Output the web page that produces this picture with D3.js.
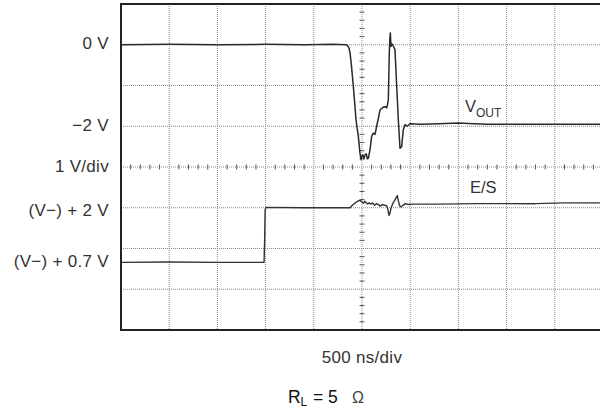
<!DOCTYPE html>
<html>
<head>
<meta charset="utf-8">
<script src="https://cdn.jsdelivr.net/npm/d3@7"></script>
<style>
  html, body { margin: 0; padding: 0; background: #fff; }
  svg { display: block; }
  text { font-family: "Liberation Sans", Arial, sans-serif; fill: #333; }
</style>
</head>
<body>
<svg id="chart" width="600" height="410"></svg>
<script>
// ---- data ----
// time in ns relative to the centre graticule (500 ns/div)
const timeTicks = [-2500, -2000, -1500, -1000, -500, 0, 500, 1000, 1500, 2000, 2500];
// VOUT trace (volts)
const voutTime = [-2500, -2000, -1500, -1000, -600, -300, -165, -150, -135, -124, -110, -90, -75, -62, -50, -38, -21, -10, -3, 8, 20, 31, 45, 55, 66, 83, 100, 117, 135, 152, 170, 187, 205, 221, 240, 256, 266, 273, 278, 283, 289, 294, 298, 301, 308, 318, 328, 342, 360, 377, 394, 411, 428, 446, 470, 498, 600, 800, 1000, 1100, 1300, 1600, 2000, 2500];
const voutVal  = [0, 0.01, 0, 0.01, 0, 0.01, 0, -0.02, -0.08, -0.2, -0.5, -1.02, -1.45, -1.84, -2.05, -2.25, -2.66, -2.82, -2.74, -2.7, -2.8, -2.7, -2.68, -2.8, -2.78, -2.58, -2.25, -2.17, -2.2, -2.0, -1.8, -1.6, -1.56, -1.53, -1.52, -1.55, -1.45, -1.35, -0.8, -0.2, 0.15, 0.29, 0.1, -0.04, 0.02, 0, -0.05, -0.12, -1.02, -1.84, -2.54, -2.5, -2.09, -1.96, -2.0, -1.94, -1.95, -1.94, -1.92, -1.93, -1.95, -1.95, -1.95, -1.95];
// E/S trace (volts above V−)
const esTime = [-2500, -2000, -1500, -1100, -1016, -1010, -1005, -995, -600, -200, -124, -100, -70, -45, -21, 0, 14, 30, 45, 60, 75, 90, 110, 130, 150, 170, 190, 210, 235, 255, 268, 280, 290, 300, 318, 340, 366, 378, 392, 405, 425, 450, 480, 520, 800, 1200, 1800, 2100, 2500];
const esVal  = [0.66, 0.67, 0.66, 0.66, 0.66, 1.2, 1.95, 2.01, 2.0, 2.0, 2.0, 2.06, 2.12, 2.16, 2.18, 2.14, 2.11, 2.16, 2.12, 2.09, 2.12, 2.09, 2.12, 2.06, 2.1, 2.08, 2.04, 2.08, 2.06, 2.05, 1.97, 1.81, 1.86, 1.98, 2.1, 2.18, 2.3, 2.16, 2.04, 2.02, 2.06, 2.1, 2.08, 2.09, 2.09, 2.1, 2.1, 2.12, 2.12];
// left-hand annotations and where they sit on the VOUT volts scale
const leftLabels = ["0 V", "−2 V", "1 V/div", "(V−) + 2 V", "(V−) + 0.7 V"];
const leftLabelVolts = [0, -2, -3, -4.1, -5.35];

(function () {
// ---- scales ----
const pL = 121, pR = 603, pT = 4, pB = 330;
const x = d3.scaleLinear().domain([-2500, 2500]).range([pL, pR]);
const yV = d3.scaleLinear().domain([-7, 1]).range([pB, pT]);   // VOUT volts
const yE = d3.scaleLinear().domain([-1, 7]).range([pB, pT]);   // volts above V−

const svg = d3.select("#chart");

// grid
const g = svg.append("g");
const hLines = d3.range(-7, 2, 1);
g.selectAll("line.v").data(timeTicks.slice(1, -1)).join("line")
  .attr("x1", d => x(d)).attr("x2", d => x(d)).attr("y1", pT).attr("y2", pB)
  .attr("stroke", "#8a8a8a").attr("stroke-width", 1).attr("stroke-dasharray", "1,1");
g.selectAll("line.h").data(hLines.slice(1, -1)).join("line")
  .attr("x1", pL).attr("x2", pR).attr("y1", d => yV(d)).attr("y2", d => yV(d))
  .attr("stroke", "#8a8a8a").attr("stroke-width", 1).attr("stroke-dasharray", "1,1");

// centre-axis minor ticks (1/5 div)
const minorT = d3.range(-2500, 2501, 100).filter(d => d % 500 !== 0);
g.selectAll("line.mt").data(minorT).join("line")
  .attr("x1", d => x(d)).attr("x2", d => x(d))
  .attr("y1", yV(-3) - 2.5).attr("y2", yV(-3) + 2.5)
  .attr("stroke", "#555").attr("stroke-width", 1);
const minorV = d3.range(-7, 1.001, 0.2).filter(d => Math.abs(d - Math.round(d)) > 0.01);
g.selectAll("line.mv").data(minorV).join("line")
  .attr("x1", x(0) - 2.5).attr("x2", x(0) + 2.5)
  .attr("y1", d => yV(d)).attr("y2", d => yV(d))
  .attr("stroke", "#555").attr("stroke-width", 1);

// traces
const lineV = d3.line().x((d, i) => x(voutTime[i])).y(d => yV(d));
svg.append("path").datum(voutVal).attr("d", lineV)
  .attr("fill", "none").attr("stroke", "#2a2a2a").attr("stroke-width", 1.5).attr("stroke-linejoin", "round");
const lineE = d3.line().x((d, i) => x(esTime[i])).y(d => yE(d));
svg.append("path").datum(esVal).attr("d", lineE)
  .attr("fill", "none").attr("stroke", "#333").attr("stroke-width", 1.4).attr("stroke-linejoin", "round");

// frame
svg.append("rect").attr("x", pL).attr("y", pT).attr("width", pR - pL).attr("height", pB - pT)
  .attr("fill", "none").attr("stroke", "#222").attr("stroke-width", 2);

// left labels
svg.selectAll("text.ll").data(leftLabels).join("text")
  .attr("x", 109).attr("y", (d, i) => yV(leftLabelVolts[i]) + 4.5)
  .attr("text-anchor", "end").attr("font-size", 17).attr("letter-spacing", 0.3)
  .text(d => d);

// trace labels
const vo = svg.append("text").attr("x", 465).attr("y", 112).attr("font-size", 16.5);
vo.append("tspan").text("V");
vo.append("tspan").attr("font-size", 12).attr("dy", 5).text("OUT");
svg.append("text").attr("x", 470).attr("y", 193).attr("font-size", 16.5).text("E/S");

// bottom labels
svg.append("text").attr("x", 362).attr("y", 363).attr("text-anchor", "middle")
  .attr("font-size", 17).attr("letter-spacing", 0.3).text("500 ns/div");
const rl = svg.append("text").attr("y", 403).attr("font-size", 17.5).style("fill", "#111");
rl.append("tspan").attr("x", 288).text("R");
rl.append("tspan").attr("x", 300.5).attr("font-size", 12).attr("dy", 3).text("L");
rl.append("tspan").attr("x", 313).attr("dy", -3).text("= 5");
rl.append("tspan").attr("x", 352).attr("font-size", 16).style("fill", "#444").text("Ω");
})();
</script>
</body>
</html>
